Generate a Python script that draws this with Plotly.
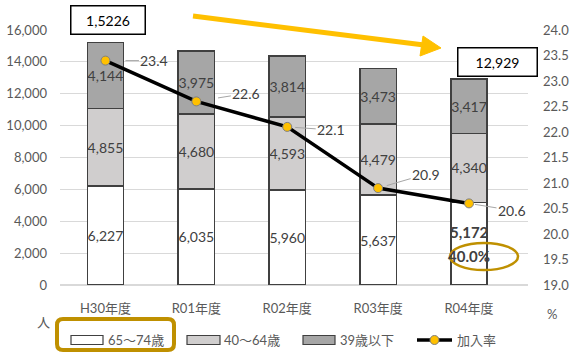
import plotly.graph_objects as go

categories = ["H30年度", "R01年度", "R02年度", "R03年度", "R04年度"]
age_65_74 = [6227, 6035, 5960, 5637, 5172]
age_40_64 = [4855, 4680, 4593, 4479, 4340]
age_39_under = [4144, 3975, 3814, 3473, 3417]
join_rate = [23.4, 22.6, 22.1, 20.9, 20.6]
series_names = ["65～74歳", "40～64歳", "39歳以下", "加入率"]
total_labels = ["1,5226", "12,929"]

W, H = 571, 352
L, R, T, B = 60, 528, 30, 285


def px(x):
    return (x - L) / (R - L)


def py(y):
    return (B - y) / (B - T)


FONT = "Lato, Noto Sans CJK JP, sans-serif"
TXT = "#404040"
TICK = "#595959"
BAR_COLORS = ["#ffffff", "#d0cece", "#a6a6a6"]

fig = go.Figure()

t1 = [f"{v:,}" for v in age_65_74]
t1[-1] = ""
bar_specs = [
    (age_65_74, BAR_COLORS[0], t1, series_names[0]),
    (age_40_64, BAR_COLORS[1], [f"{v:,}" for v in age_40_64], series_names[1]),
    (age_39_under, BAR_COLORS[2], [f"{v:,}" for v in age_39_under], series_names[2]),
]
for vals, col, txt, name in bar_specs:
    fig.add_trace(go.Bar(
        x=categories, y=vals, name=name, width=0.4,
        marker=dict(color=col, line=dict(color="#404040", width=1.5)),
        text=txt, textposition="inside", insidetextanchor="middle",
        textangle=0, textfont=dict(color=TXT, size=14, family=FONT),
        hoverinfo="skip",
    ))

fig.add_trace(go.Scatter(
    x=categories, y=join_rate, name=series_names[3], yaxis="y2",
    mode="lines+markers",
    line=dict(color="#000000", width=3.5),
    marker=dict(color="#ffc000", size=9, line=dict(color="#7f7f7f", width=1)),
))


def note(x, y, text, xref="paper", yref="paper", **kw):
    base = dict(x=x, y=y, xref=xref, yref=yref, text=text, showarrow=False,
                xanchor="center", yanchor="middle")
    base.update(kw)
    fig.add_annotation(**base)


# line data labels with leader lines
offsets = [(49, 0, 20), (50, -8, 22), (44, 3, 8), (48, -14, 9), (43, 7, 6)]
for c, v, (ax, ay, so) in zip(categories, join_rate, offsets):
    fig.add_annotation(x=c, y=v, xref="x", yref="y2", text=f"{v:.1f}",
                       showarrow=True, arrowhead=0, arrowwidth=1,
                       arrowcolor="#a6a6a6", ax=ax, ay=ay, standoff=so,
                       xanchor="center", yanchor="middle",
                       font=dict(size=14, color=TXT, family=FONT))

# bold R04 bottom label and share
share = age_65_74[-1] / (age_65_74[-1] + age_40_64[-1] + age_39_under[-1]) * 100
note(categories[-1], py(232), f"<b>{age_65_74[-1]:,}</b>", xref="x",
     font=dict(size=15, color=TXT, family=FONT))
note(categories[-1], py(256), f"<b>{share:.1f}%</b>", xref="x",
     font=dict(size=15, color=TXT, family=FONT))

# total boxes
note(px(108), py(20.5), total_labels[0], width=71, height=25,
     bgcolor="#ffffff", bordercolor="#000000", borderwidth=1.5,
     font=dict(size=14, color="#000000", family=FONT))
note(px(497), py(61.5), total_labels[1], width=76, height=25,
     bgcolor="#ffffff", bordercolor="#000000", borderwidth=1.5,
     font=dict(size=14, color="#000000", family=FONT))

# axis unit labels
note(px(43), py(322), "人", font=dict(size=13, color=TICK, family=FONT))
note(px(552), py(314), "%", font=dict(size=13, color=TICK, family=FONT))

shapes = []
# yellow trend arrow
shapes.append(dict(type="line", xref="paper", yref="paper",
                   x0=px(193), y0=py(16), x1=px(424), y1=py(45),
                   line=dict(color="#ffc000", width=5)))
shapes.append(dict(type="path", xref="paper", yref="paper",
                   path=f"M{px(441)},{py(48)} L{px(423)},{py(36)} L{px(420)},{py(56)} Z",
                   fillcolor="#ffc000", line=dict(color="#ffc000", width=1)))
# ellipse around share
shapes.append(dict(type="circle", xref="paper", yref="paper",
                   x0=px(450), x1=px(518), y0=py(270), y1=py(243),
                   line=dict(color="#bf9000", width=2.5)))

# custom legend
LEG_Y = 340
leg_boxes = [(71, 103), (187, 220), (303, 335)]
leg_text_x = [106, 222, 338, 455]
for (a, b), col in zip(leg_boxes, BAR_COLORS):
    shapes.append(dict(type="rect", xref="paper", yref="paper",
                       x0=px(a), x1=px(b), y0=py(LEG_Y + 4.5), y1=py(LEG_Y - 4.5),
                       fillcolor=col, line=dict(color="#404040", width=1.2)))
shapes.append(dict(type="line", xref="paper", yref="paper",
                   x0=px(417), x1=px(452), y0=py(LEG_Y), y1=py(LEG_Y),
                   line=dict(color="#000000", width=3.5)))
shapes.append(dict(type="circle", xref="paper", yref="paper",
                   x0=px(430), x1=px(439), y0=py(LEG_Y + 4.5), y1=py(LEG_Y - 4.5),
                   fillcolor="#ffc000", line=dict(color="#7f7f7f", width=1)))
for name, tx in zip(series_names, leg_text_x):
    note(px(tx), py(LEG_Y), name, xanchor="left",
         font=dict(size=13, color=TICK, family=FONT))

# rounded rectangle around first legend item
x0, x1, y0, y1, r = 57, 174, 319, 350, 6
path = (f"M{px(x0 + r)},{py(y0)} L{px(x1 - r)},{py(y0)} "
        f"Q{px(x1)},{py(y0)} {px(x1)},{py(y0 + r)} L{px(x1)},{py(y1 - r)} "
        f"Q{px(x1)},{py(y1)} {px(x1 - r)},{py(y1)} L{px(x0 + r)},{py(y1)} "
        f"Q{px(x0)},{py(y1)} {px(x0)},{py(y1 - r)} L{px(x0)},{py(y0 + r)} "
        f"Q{px(x0)},{py(y0)} {px(x0 + r)},{py(y0)} Z")
shapes.append(dict(type="path", xref="paper", yref="paper", path=path,
                   line=dict(color="#bf9000", width=4)))

fig.update_layout(
    width=W, height=H,
    margin=dict(l=L, r=W - R, t=T, b=H - B, pad=0, autoexpand=False),
    paper_bgcolor="#ffffff", plot_bgcolor="#ffffff",
    barmode="stack", bargap=0.6,
    font=dict(family=FONT, size=13, color=TICK),
    uniformtext=dict(minsize=14, mode="show"),
    showlegend=False,
    xaxis=dict(showgrid=False, showline=False, ticks="", ticklabelstandoff=14,
               tickfont=dict(size=13, color=TICK)),
    yaxis=dict(range=[0, 16000], dtick=2000, tickformat=",", showgrid=True,
               gridcolor="#d9d9d9", gridwidth=1, zeroline=True,
               zerolinecolor="#d9d9d9", showline=False, ticks="",
               ticklabelstandoff=12, tickfont=dict(size=13, color=TICK)),
    yaxis2=dict(range=[19, 24], dtick=0.5, tickformat=".1f", overlaying="y",
                side="right", showgrid=False, zeroline=False, showline=False,
                ticks="", ticklabelstandoff=14,
                tickfont=dict(size=13, color=TICK)),
    shapes=shapes,
)

fig.write_html("out.html")
